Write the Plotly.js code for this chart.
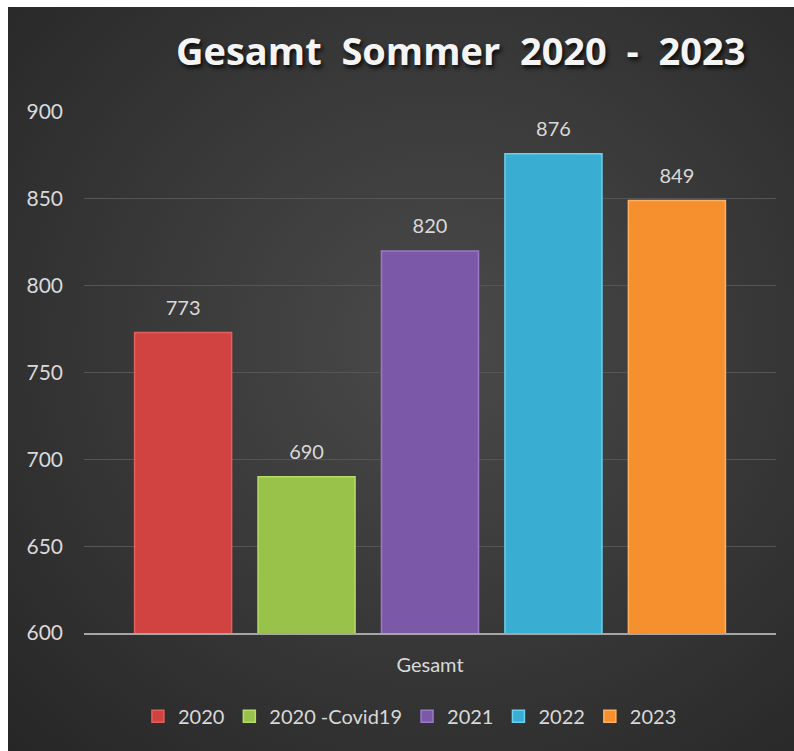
<!DOCTYPE html>
<html>
<head>
<meta charset="utf-8">
<script src="https://cdn.plot.ly/plotly-3.0.1.min.js"></script>
<style>
  html, body { margin: 0; padding: 0; background: #ffffff; }
  #chart {
    position: absolute; left: 8px; top: 7px; width: 786px; height: 744px;
    background: radial-gradient(ellipse at 55% 45%, #4a4a4a 0%, #3a3a3a 45%, #262626 100%);
  }
</style>
</head>
<body>
<div id="chart"></div>
<script>
const category = ["Gesamt"];
const seriesNames = ["2020", "2020 -Covid19", "2021", "2022", "2023"];
const seriesValues = [773, 690, 820, 876, 849];
const seriesColors = ["#d04340", "#99c24b", "#7c59a8", "#39aed2", "#f68f2d"];
const seriesLines = ["#e0605c", "#b5dc66", "#9a7ac4", "#6cd0ef", "#ffb060"];
const yTicks = [600, 650, 700, 750, 800, 850, 900];

const font = "Lato, 'Open Sans', sans-serif";
const traces = seriesNames.map((name, i) => ({
  type: "bar",
  name: name,
  x: category,
  y: [seriesValues[i]],
  text: ["<span style='font-size:20px'>" + String(seriesValues[i]) + "</span><br> "],
  textposition: "outside",
  cliponaxis: false,
  textfont: { family: font, size: 10, color: "#d9d9d9" },
  marker: { color: seriesColors[i], line: { color: seriesLines[i], width: 1.5 } },
  hoverinfo: "none"
}));

const layout = {
  width: 786, height: 744,
  paper_bgcolor: "rgba(0,0,0,0)",
  plot_bgcolor: "rgba(0,0,0,0)",
  margin: { l: 76, r: 18, t: 105, b: 118 },
  barmode: "group",
  bargap: 0.108,
  bargroupgap: 0.214,
  title: {
    text: "<b>Gesamt  Sommer  2020  -  2023</b>",
    font: { family: "'Open Sans', sans-serif", size: 38, color: "#f4f4f4", shadow: "2px 3px 4px rgba(0,0,0,0.8)" },
    xref: "container", yref: "container",
    x: 0.576, xanchor: "center", y: 0.94, yanchor: "middle"
  },
  xaxis: {
    type: "category",
    showline: true, linecolor: "#a6a6a6", linewidth: 2,
    showgrid: false, ticks: "",
    ticklabelstandoff: 13,
    tickfont: { family: font, size: 20, color: "#d9d9d9" }
  },
  yaxis: {
    range: [600, 900],
    tickvals: yTicks,
    ticktext: yTicks.map(String),
    showgrid: true, gridcolor: "#555555", gridwidth: 1,
    zeroline: false, showline: false, ticks: "",
    ticklabelstandoff: 20,
    tickfont: { family: font, size: 21, color: "#d9d9d9" }
  },
  showlegend: true,
  legend: {
    orientation: "h",
    x: 0.471, xanchor: "center",
    y: -0.16, yanchor: "middle",
    font: { family: font, size: 20, color: "#d9d9d9" },
    itemwidth: 30,
    tracegroupgap: 0,
    bgcolor: "rgba(0,0,0,0)"
  }
};

Plotly.newPlot("chart", traces, layout, { displayModeBar: false, staticPlot: true });
</script>
</body>
</html>
